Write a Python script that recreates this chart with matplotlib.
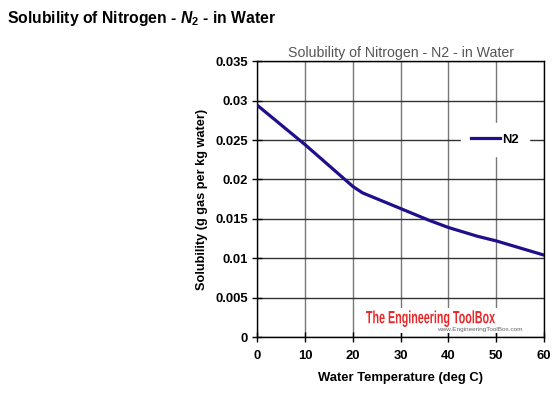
import matplotlib
matplotlib.use("Agg")
import matplotlib.pyplot as plt
import matplotlib.transforms as mtransforms
from matplotlib.textpath import TextPath
from matplotlib.patches import PathPatch, Rectangle
from matplotlib.font_manager import FontProperties
import numpy as np

plt.rcParams['font.family'] = ['Liberation Sans', 'DejaVu Sans']
plt.rcParams['mathtext.fontset'] = 'custom'
plt.rcParams['mathtext.it'] = 'Liberation Sans:italic:bold'
plt.rcParams['mathtext.rm'] = 'Liberation Sans:bold'

# water temperature (deg C) and solubility of N2 (g gas per kg water)
temps = [0, 10, 20, 22, 30, 36, 40, 46, 50, 60]
solubility = [0.0294, 0.0244, 0.0191, 0.0183, 0.0163, 0.0148, 0.0139, 0.0128, 0.0122, 0.0104]
xticks = [0, 10, 20, 30, 40, 50, 60]
yticks = [0, 0.005, 0.01, 0.015, 0.02, 0.025, 0.03, 0.035]
ytick_labels = ['0', '0.005', '0.01', '0.015', '0.02', '0.025', '0.03', '0.035']

fig = plt.figure(figsize=(5.56, 3.95), dpi=100)
ax = fig.add_axes([0.4631, 0.1468, 0.5153, 0.698])

ax.plot(temps, solubility, color='#1f0f8a', lw=2.3, label='N2', zorder=3)

ax.set_xlim(0, 60)
ax.set_ylim(0, 0.035)
ax.set_xticks(xticks)
ax.set_yticks(yticks)
ax.set_yticklabels(ytick_labels)
for lab in ax.get_xticklabels() + ax.get_yticklabels():
    lab.set_fontweight('bold')
ax.tick_params(direction='inout', length=7, width=1, labelsize=9.4, colors='black')
ax.tick_params(axis='x', pad=6)
ax.tick_params(axis='y', pad=3.4)

ax.grid(axis='y', color='#333333', lw=1)
ax.grid(axis='x', color='#777777', lw=1)
ax.set_axisbelow(True)
for s in ax.spines.values():
    s.set_color('black')
    s.set_linewidth(1)

ax.set_xlabel('Water Temperature (deg C)', fontsize=9.4, fontweight='bold', labelpad=7)
ax.set_ylabel('Solubility (g gas per kg water)', fontsize=9.2, fontweight='bold', labelpad=5)
ax.set_title('Solubility of Nitrogen - N2 - in Water', fontsize=10.2, color='#555555', pad=3)

leg = ax.legend(loc='center', bbox_to_anchor=(0.829, 0.716), frameon=True, fancybox=False,
                edgecolor='white', facecolor='white', framealpha=1, handlelength=2.2,
                handletextpad=0.2, borderpad=0.8, fontsize=9.4)
for t in leg.get_texts():
    t.set_fontweight('bold')

# watermark: white patch hiding the grid, condensed red logo, small url
ax.add_patch(Rectangle((0.365, 0.0145), 0.585, 0.09, transform=ax.transAxes,
                       facecolor='white', edgecolor='none', zorder=2))
tp = TextPath((0, 0), 'The Engineering ToolBox', size=17.7,
              prop=FontProperties(family='Liberation Sans', weight='bold'))
ext = tp.get_extents()
x0, y0 = ax.transAxes.transform((0.379, 0.05))
x1, _ = ax.transAxes.transform((0.829, 0.05))
sx = (x1 - x0) / ext.width
logo_tr = mtransforms.Affine2D().translate(-ext.x0, 0).scale(sx, 1.0).translate(x0, y0)
ax.add_artist(PathPatch(tp, transform=logo_tr, facecolor='#e8292b', edgecolor='none', zorder=4))
ax.text(0.777, 0.029, 'www.EngineeringToolBox.com', transform=ax.transAxes, ha='center', va='center',
        fontsize=4.6, color='#666666', zorder=5)

fig.text(0.013, 0.952, r'Solubility of Nitrogen - $\mathit{N}_{2}$ - in Water', fontsize=11.3,
         fontweight='bold', ha='left', va='center')

fig.savefig('out.png', dpi=100)
